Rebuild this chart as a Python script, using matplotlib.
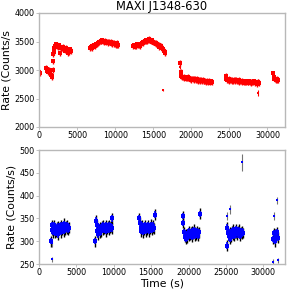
import numpy as np
import matplotlib
matplotlib.use('Agg')
import matplotlib.pyplot as plt

# ---- MAXI 光变曲线 (上图, 红色) ----
maxi_a = [2960, 2940]                                    # t = 0..100
maxi_b = [3040, 2990, 3010, 2960, 3000, 2950, 2970, 2920, 2870]   # 900..1700
maxi_c = [2900, 3000, 3150, 3280, 3320]                  # 1750..1950, step 50
maxi_d = [3380, 3420, 3450, 3410, 3440, 3400, 3430, 3300, 3410, 3390, 3380, 3400,
          3360, 3370, 3340, 3380, 3350, 3330, 3300, 3350, 3320, 3360, 3330]  # 2000..4200
maxi_e = [3390, 3400, 3420, 3390, 3410, 3430, 3420, 3440, 3450, 3460, 3470, 3480,
          3490, 3500, 3510, 3500, 3520, 3510, 3490, 3500, 3510, 3480, 3500, 3490,
          3470, 3490, 3480, 3470, 3490, 3460, 3480, 3450, 3470, 3460, 3440, 3470,
          3430, 3440]                                    # 6700..10400
maxi_f = [3420, 3430, 3410, 3440, 3420, 3450, 3430, 3440, 3420, 3450, 3460, 3480,
          3470, 3490, 3500, 3510, 3500, 3520, 3510, 3530, 3520, 3550, 3530, 3510,
          3520, 3500, 3490, 3480, 3470, 3480, 3450, 3460, 3430, 3440, 3400, 3410,
          3420, 3390, 3380, 3360, 3340, 3320, 3300]      # 12400..16600
maxi_g = [3120, 2960, 2900, 2880, 2870, 2860, 2880, 2870, 2850, 2860, 2880, 2850,
          2860, 2840, 2850, 2830, 2850, 2840, 2850, 2830, 2840, 2820, 2830, 2840,
          2810, 2820, 2830, 2810, 2820, 2800, 2820, 2810, 2800, 2810, 2790, 2810,
          2800, 2790, 2810, 2800, 2780, 2800, 2790]      # 18500..22700
maxi_h = [2900, 2850, 2830, 2820, 2840, 2810, 2830, 2820, 2800, 2830, 2810, 2820,
          2830, 2800, 2820, 2810, 2800, 2820, 2790, 2810, 2800, 2790, 2810, 2800,
          2780, 2800, 2790, 2780, 2800, 2790, 2780, 2800, 2790, 2770, 2790, 2780,
          2790, 2800, 2770, 2790, 2780, 2760, 2790, 2790, 2770]   # 24500..28900
maxi_i = [2940, 2870, 2850, 2840, 2830, 2850, 2820, 2830]  # 30700..31400
maxi_out_t = [18450, 16300, 28800]
maxi_out_r = [3060, 2650, 2600]
maxi_out_e = [50, 20, 50]
maxi_err = 50

maxi_segments = [(0, 100, maxi_a), (900, 100, maxi_b), (1750, 50, maxi_c),
                 (2000, 100, maxi_d), (6700, 100, maxi_e), (12400, 100, maxi_f),
                 (18500, 100, maxi_g), (24500, 100, maxi_h), (30700, 100, maxi_i)]

# ---- 下图 (蓝色) ----
low_1 = [300, 325, 335, 320, 335, 318, 328, 322, 330, 315, 332, 325, 330, 320, 335,
         326, 330, 322, 338, 325, 332, 328, 335, 325, 330]          # 1600..4000
low_2 = [300, 345, 335, 322, 315, 325, 318, 330, 322, 332, 325, 335, 328, 330, 322,
         335, 328, 332, 325, 335, 330, 333, 350, 328]               # 7500..9800
low_3 = [350, 340, 330, 322, 335, 320, 330, 325, 335, 322, 330, 326, 335, 322, 330,
         328, 336, 325, 330, 334, 328, 358]                         # 13400..15500
low_4 = [355, 340, 320, 310, 305, 315, 308, 318, 312, 322, 315, 320, 310, 322, 316,
         325, 312, 320, 315, 322, 318, 312, 320, 360]               # 19200..21500
low_5 = [290, 330, 318, 312, 305, 320, 310, 322, 315, 325, 312, 320, 318, 326, 315,
         322, 318, 325, 312, 320, 316, 322, 318]                    # 25100..27300
low_6 = [305, 318, 300, 315, 310, 320, 308]                         # 31300..31900
low_out_t = [1700, 1800, 25100, 25500, 27200, 31400, 31800, 31300, 31900]
low_out_r = [260, 295, 355, 370, 473, 355, 390, 255, 258]
low_out_e = [5, 8, 8, 10, 18, 8, 8, 5, 5]
low_err = 12

low_segments = [(1600, low_1), (7500, low_2), (13400, low_3),
                (19200, low_4), (25100, low_5), (31300, low_6)]

plt.rcParams['font.family'] = 'DejaVu Sans'
fig = plt.figure(figsize=(2.89, 2.90), dpi=100)
ax1 = fig.add_axes([39/289, 1-127/290, 246/289, 114/290])
ax2 = fig.add_axes([39/289, 1-264/290, 246/289, 114/290])

for t0, dt, vals in maxi_segments:
    t = t0 + dt*np.arange(len(vals))
    ax1.errorbar(t, vals, yerr=maxi_err, fmt='s', ms=2.2, color='red',
                 ecolor='red', elinewidth=1.0, capsize=0, mew=0)
ax1.errorbar(maxi_out_t, maxi_out_r, yerr=maxi_out_e, fmt='s', ms=2.0, color='red',
             ecolor='red', elinewidth=0.8, capsize=0, mew=0)

for t0, vals in low_segments:
    t = t0 + 100*np.arange(len(vals))
    ax2.errorbar(t, vals, yerr=low_err, fmt='none', ecolor='black',
                 elinewidth=1.0, capsize=0)
for t0, vals in low_segments:
    t = t0 + 100*np.arange(len(vals))
    ax2.errorbar(t, vals, yerr=low_err*0.6, fmt='s', ms=3.0, color='blue',
                 ecolor='blue', elinewidth=1.2, capsize=0, mew=0)
ax2.errorbar(low_out_t, low_out_r, yerr=low_out_e, fmt='s', ms=1.8, color='blue',
             ecolor='0.45', elinewidth=0.8, capsize=0, mew=0)

ax1.set_xlim(0, 32300)
ax1.set_ylim(2000, 4000)
ax2.set_xlim(0, 32900)
ax2.set_ylim(250, 500)
ax1.set_xticks([0, 5000, 10000, 15000, 20000, 25000, 30000])
ax2.set_xticks([0, 5000, 10000, 15000, 20000, 25000, 30000])
ax1.set_yticks([2000, 2500, 3000, 3500, 4000])
ax2.set_yticks([250, 300, 350, 400, 450, 500])

ax1.set_title('MAXI J1348-630', fontsize=8.3, pad=2)
ax1.set_ylabel('Rate (Counts/s', fontsize=7.8, labelpad=2)
ax2.set_ylabel('Rate (Counts/s)', fontsize=7.8, labelpad=2)
ax2.set_xlabel('Time (s)', fontsize=7.8, labelpad=1)

for ax in (ax1, ax2):
    for sp in ax.spines.values():
        sp.set_color('#b8b8b8')
        sp.set_linewidth(1.0)
    ax.tick_params(labelsize=5.8, length=2, width=0.6, color='#b8b8b8', pad=1)

fig.savefig('out.png', dpi=100)
